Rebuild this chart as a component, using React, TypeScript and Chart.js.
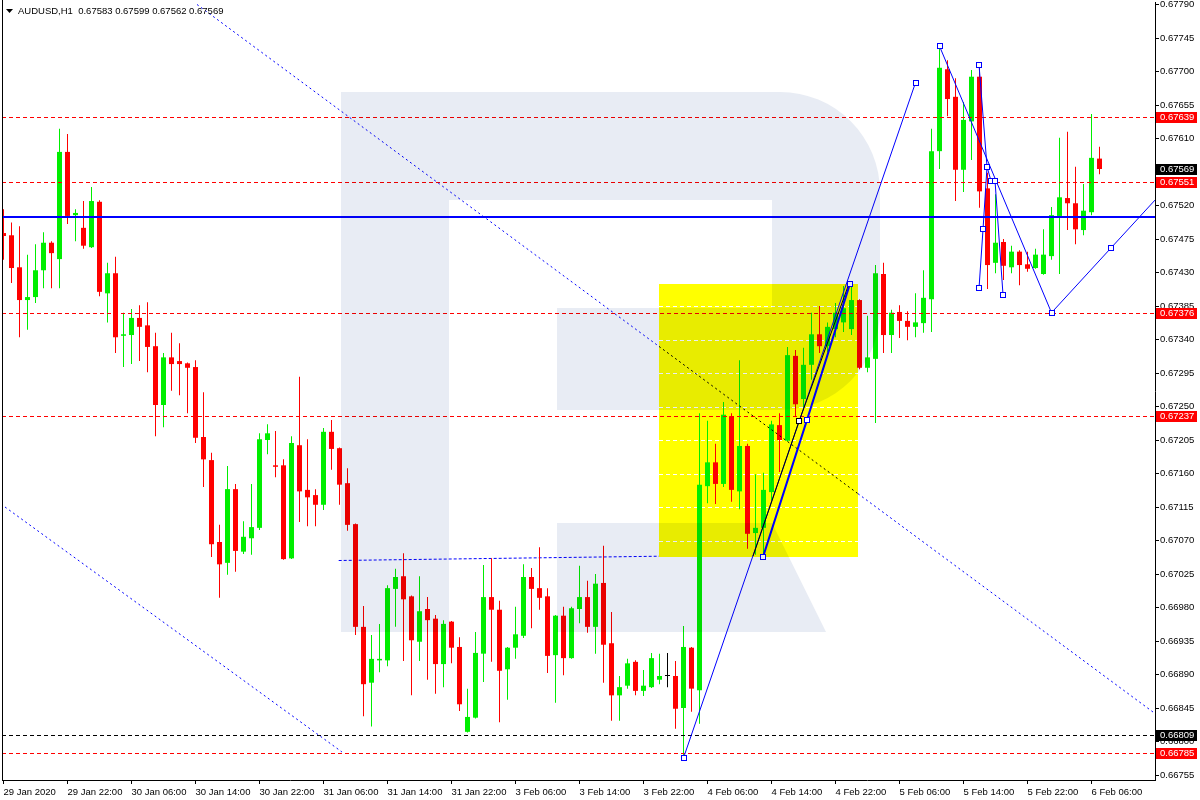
import React, { useEffect, useRef } from "react";
import { Chart, registerables } from "chart.js";

Chart.register(...registerables);

// ---------- DATA ----------
const opens = [
  0.67483, 0.67480, 0.67437, 0.67393, 0.67397, 0.67433, 0.67470, 0.67448, 0.67592, 0.67507,
  0.67490, 0.67464, 0.67525, 0.67402, 0.67429, 0.67345, 0.67346, 0.67369, 0.67359, 0.67331,
  0.67252, 0.67316, 0.67311, 0.67308, 0.67303, 0.67209, 0.67178, 0.67068, 0.67040, 0.67139,
  0.67055, 0.67073, 0.67087, 0.67205, 0.67171, 0.67171, 0.67046, 0.67198, 0.67138, 0.67131,
  0.67118, 0.67216, 0.67194, 0.67147, 0.67092, 0.66954, 0.66879, 0.66909, 0.66909, 0.67005,
  0.67022, 0.66995, 0.66934, 0.66978, 0.66965, 0.66904, 0.66961, 0.66927, 0.66813, 0.66832,
  0.66918, 0.66994, 0.66977, 0.66897, 0.66926, 0.66942, 0.67021, 0.67006, 0.66995, 0.66916,
  0.66969, 0.66912, 0.66978, 0.66994, 0.66954, 0.67013, 0.66932, 0.66862, 0.66875, 0.66907,
  0.66868, 0.66873, 0.66883, 0.66888, 0.66888, 0.66845, 0.66926, 0.66869, 0.67143, 0.67175,
  0.67146, 0.67237, 0.67136, 0.67197, 0.67080, 0.67087, 0.67135, 0.67225, 0.67204, 0.67318,
  0.67260, 0.67306, 0.67347, 0.67331, 0.67354, 0.67363, 0.67354, 0.67393, 0.67302, 0.67314,
  0.67428, 0.67346, 0.67377, 0.67365, 0.67357, 0.67362, 0.67394, 0.67593, 0.67703, 0.67666,
  0.67568, 0.67633, 0.67693, 0.67543, 0.67443, 0.67471, 0.67437, 0.67458, 0.67441, 0.67436,
  0.67428, 0.67452, 0.67506, 0.67530, 0.67523, 0.67487, 0.67511, 0.67583,
];
const highs = [
  0.67515, 0.67497, 0.67492, 0.67454, 0.67468, 0.67484, 0.67472, 0.67623, 0.67616, 0.67515,
  0.67526, 0.67545, 0.67527, 0.67443, 0.67451, 0.67376, 0.67381, 0.67386, 0.67390, 0.67349,
  0.67322, 0.67349, 0.67335, 0.67309, 0.67312, 0.67269, 0.67188, 0.67091, 0.67170, 0.67146,
  0.67096, 0.67146, 0.67214, 0.67226, 0.67217, 0.67179, 0.67210, 0.67290, 0.67206, 0.67139,
  0.67221, 0.67232, 0.67195, 0.67167, 0.67093, 0.66982, 0.66943, 0.66958, 0.67010, 0.67032,
  0.67053, 0.66996, 0.67022, 0.66994, 0.66970, 0.66963, 0.66962, 0.66940, 0.66871, 0.66947,
  0.67037, 0.67046, 0.66989, 0.66927, 0.66981, 0.67038, 0.67033, 0.67061, 0.67006, 0.66970,
  0.66981, 0.66981, 0.67036, 0.67016, 0.67025, 0.67063, 0.66974, 0.66888, 0.66911, 0.66909,
  0.66896, 0.66919, 0.66918, 0.66919, 0.66908, 0.66955, 0.66927, 0.67241, 0.67231, 0.67200,
  0.67256, 0.67241, 0.67312, 0.67200, 0.67159, 0.67161, 0.67231, 0.67241, 0.67330, 0.67326,
  0.67329, 0.67376, 0.67385, 0.67363, 0.67389, 0.67412, 0.67413, 0.67394, 0.67372, 0.67440,
  0.67443, 0.67380, 0.67386, 0.67378, 0.67402, 0.67433, 0.67623, 0.67734, 0.67715, 0.67691,
  0.67659, 0.67702, 0.67709, 0.67564, 0.67535, 0.67475, 0.67466, 0.67460, 0.67458, 0.67462,
  0.67488, 0.67518, 0.67611, 0.67619, 0.67572, 0.67549, 0.67643, 0.67599,
];
const lows = [
  0.67447, 0.67416, 0.67343, 0.67353, 0.67389, 0.67409, 0.67409, 0.67409, 0.67495, 0.67472,
  0.67462, 0.67463, 0.67398, 0.67363, 0.67322, 0.67303, 0.67307, 0.67311, 0.67296, 0.67210,
  0.67222, 0.67271, 0.67265, 0.67241, 0.67201, 0.67142, 0.67048, 0.66993, 0.67024, 0.67028,
  0.67052, 0.67051, 0.67084, 0.67186, 0.67155, 0.67044, 0.67045, 0.67095, 0.67089, 0.67089,
  0.67111, 0.67165, 0.67118, 0.67083, 0.66943, 0.66834, 0.66820, 0.66893, 0.66901, 0.66954,
  0.66908, 0.66862, 0.66908, 0.66883, 0.66864, 0.66873, 0.66905, 0.66841, 0.66812, 0.66831,
  0.66880, 0.66907, 0.66826, 0.66856, 0.66911, 0.66939, 0.66952, 0.66977, 0.66892, 0.66852,
  0.66889, 0.66911, 0.66959, 0.66946, 0.66918, 0.66879, 0.66828, 0.66828, 0.66871, 0.66862,
  0.66861, 0.66872, 0.66877, 0.66873, 0.66817, 0.66780, 0.66840, 0.66824, 0.67120, 0.67119,
  0.67142, 0.67122, 0.67112, 0.67059, 0.67051, 0.67053, 0.67124, 0.67162, 0.67203, 0.67236,
  0.67249, 0.67286, 0.67322, 0.67323, 0.67343, 0.67350, 0.67346, 0.67300, 0.67296, 0.67228,
  0.67322, 0.67322, 0.67342, 0.67339, 0.67343, 0.67349, 0.67350, 0.67569, 0.67640, 0.67526,
  0.67538, 0.67581, 0.67517, 0.67408, 0.67429, 0.67420, 0.67429, 0.67413, 0.67431, 0.67435,
  0.67427, 0.67447, 0.67428, 0.67487, 0.67468, 0.67480, 0.67507, 0.67562,
];
const closes = [
  0.67479, 0.67436, 0.67393, 0.67397, 0.67433, 0.67470, 0.67456, 0.67592, 0.67506, 0.67510,
  0.67466, 0.67526, 0.67404, 0.67429, 0.67343, 0.67347, 0.67369, 0.67357, 0.67330, 0.67252,
  0.67316, 0.67307, 0.67307, 0.67302, 0.67208, 0.67179, 0.67065, 0.67038, 0.67139, 0.67056,
  0.67075, 0.67088, 0.67206, 0.67214, 0.67169, 0.67045, 0.67201, 0.67136, 0.67128, 0.67118,
  0.67216, 0.67193, 0.67145, 0.67091, 0.66954, 0.66877, 0.66911, 0.66911, 0.67006, 0.67021,
  0.66991, 0.66936, 0.66975, 0.66963, 0.66904, 0.66958, 0.66926, 0.66850, 0.66833, 0.66919,
  0.66994, 0.66977, 0.66895, 0.66926, 0.66944, 0.67021, 0.67005, 0.66993, 0.66915, 0.66969,
  0.66912, 0.66979, 0.66994, 0.66954, 0.67012, 0.66930, 0.66862, 0.66873, 0.66905, 0.66868,
  0.66875, 0.66912, 0.66888, 0.66888, 0.66844, 0.66927, 0.66871, 0.67145, 0.67175, 0.67146,
  0.67239, 0.67138, 0.67197, 0.67079, 0.67087, 0.67138, 0.67226, 0.67205, 0.67319, 0.67253,
  0.67306, 0.67347, 0.67331, 0.67357, 0.67376, 0.67382, 0.67393, 0.67302, 0.67316, 0.67429,
  0.67346, 0.67376, 0.67365, 0.67357, 0.67363, 0.67396, 0.67593, 0.67705, 0.67663, 0.67568,
  0.67635, 0.67693, 0.67539, 0.67440, 0.67470, 0.67439, 0.67458, 0.67440, 0.67435, 0.67454,
  0.67454, 0.67507, 0.67531, 0.67523, 0.67488, 0.67513, 0.67584, 0.67569,
];

// time axis: one label every 8 bars
const timeTickLabels = [
  "29 Jan 2020", "29 Jan 22:00", "30 Jan 06:00", "30 Jan 14:00", "30 Jan 22:00",
  "31 Jan 06:00", "31 Jan 14:00", "31 Jan 22:00", "3 Feb 06:00", "3 Feb 14:00",
  "3 Feb 22:00", "4 Feb 06:00", "4 Feb 14:00", "4 Feb 22:00", "5 Feb 06:00",
  "5 Feb 14:00", "5 Feb 22:00", "6 Feb 06:00",
];
const barsPerTimeTick = 8;

const priceTicks = [
  0.66755, 0.66800, 0.66845, 0.66890, 0.66935, 0.66980, 0.67025, 0.67070,
  0.67115, 0.67160, 0.67205, 0.67250, 0.67295, 0.67340, 0.67385, 0.67430,
  0.67475, 0.67520, 0.67565, 0.67610, 0.67655, 0.67700, 0.67745, 0.67790,
];

const redLevels = [0.67639, 0.67551, 0.67376, 0.67237, 0.66785];
const blackLevels = [0.66809];
const blueLevel = 0.67505;
const lastPrice = 0.67569;

const titleText = "AUDUSD,H1  0.67583 0.67599 0.67562 0.67569";

// drawing objects anchored at (bar index, price)
const trendA = [[24.19, 0.6779], [120, 0.67028]];
const trendB = [[0.19, 0.67115], [42.3, 0.66786]];
const lineC = [[41.9, 0.67044], [98, 0.67052]];
const lineD = [[85, 0.66778], [114, 0.67685]];
const lineE = [[94.94, 0.67048], [100.44, 0.67232], [105.81, 0.67415]];
const lineF = [[93.69, 0.67049], [99.44, 0.6723], [105.69, 0.67415]];
const lineG = [[117, 0.67734], [131, 0.67376], [138.44, 0.67463]];
const waveH1 = [[121.94, 0.67709], [122.94, 0.67572], [123.44, 0.67553], [123.94, 0.67553], [124.94, 0.674]];
const waveH2 = [[121.94, 0.67409], [122.44, 0.67488], [122.94, 0.67572]];
const yellowBox = { x0: 81.94, x1: 106.81, top: 0.67414, bottom: 0.67048 };

// ---------- CHART ----------
const FONT = "Liberation Sans, Arial, sans-serif";
const GREEN = "#00ee00";
const RED = "#ff0000";

function candleColor(i: number) {
  if (closes[i] > opens[i]) return GREEN;
  if (closes[i] < opens[i]) return RED;
  return "#000000";
}

const overlayPlugin = {
  id: "mt4overlay",
  beforeDraw(chart: any) {
    const ctx = chart.ctx;
    ctx.save();
    ctx.fillStyle = "#ffffff";
    ctx.fillRect(0, 0, chart.width, chart.height);
    ctx.restore();
  },
  beforeDatasetsDraw(chart: any) {
    const ctx = chart.ctx;
    const xs = chart.scales.x;
    const ys = chart.scales.y;
    const X = (v: number) => xs.getPixelForValue(v);
    const Y = (v: number) => ys.getPixelForValue(v);
    const a = chart.chartArea;
    ctx.save();
    ctx.beginPath();
    ctx.rect(a.left, a.top, a.right - a.left, a.bottom - a.top);
    ctx.clip();
    // blue dashed near-horizontal line
    ctx.strokeStyle = "#0000ff";
    ctx.lineWidth = 1;
    ctx.setLineDash([3, 2]);
    ctx.beginPath();
    ctx.moveTo(X(lineC[0][0]), Math.round(Y(lineC[0][1])) + 0.5);
    ctx.lineTo(X(lineC[1][0]), Math.round(Y(lineC[1][1])) + 0.5);
    ctx.stroke();
    ctx.setLineDash([]);
    // yellow rectangle
    const bx0 = Math.round(X(yellowBox.x0));
    const bx1 = Math.round(X(yellowBox.x1));
    const by0 = Math.round(Y(yellowBox.top));
    const by1 = Math.round(Y(yellowBox.bottom));
    ctx.fillStyle = "#ffff00";
    ctx.fillRect(bx0, by0, bx1 - bx0, by1 - by0);
    // white grid dashes visible inside yellow
    ctx.strokeStyle = "#ffffff";
    ctx.setLineDash([4, 3]);
    for (const p of priceTicks) {
      const y = Math.round(Y(p)) + 0.5;
      if (y > by0 && y < by1) {
        ctx.beginPath();
        ctx.moveTo(bx0, y);
        ctx.lineTo(bx1, y);
        ctx.stroke();
      }
    }
    ctx.restore();
  },
  afterDatasetsDraw(chart: any) {
    const ctx = chart.ctx;
    const xs = chart.scales.x;
    const ys = chart.scales.y;
    const X = (v: number) => xs.getPixelForValue(v);
    const Y = (v: number) => ys.getPixelForValue(v);
    const a = chart.chartArea;
    ctx.save();
    ctx.beginPath();
    ctx.rect(a.left, a.top, a.right - a.left, a.bottom - a.top);
    ctx.clip();

    // horizontal levels
    ctx.lineWidth = 1;
    ctx.setLineDash([4, 3]);
    for (const lv of redLevels) {
      const y = Math.round(Y(lv)) + 0.5;
      ctx.strokeStyle = RED;
      ctx.beginPath();
      ctx.moveTo(a.left, y);
      ctx.lineTo(a.right, y);
      ctx.stroke();
    }
    for (const lv of blackLevels) {
      const y = Math.round(Y(lv)) + 0.5;
      ctx.strokeStyle = "#000000";
      ctx.beginPath();
      ctx.moveTo(a.left, y);
      ctx.lineTo(a.right, y);
      ctx.stroke();
    }
    ctx.setLineDash([]);
    ctx.strokeStyle = "#0000ff";
    ctx.lineWidth = 2;
    {
      const y = Math.round(Y(blueLevel));
      ctx.beginPath();
      ctx.moveTo(a.left, y);
      ctx.lineTo(a.right, y);
      ctx.stroke();
    }

    const bx0 = X(yellowBox.x0);
    const bx1 = X(yellowBox.x1);

    // dotted trend line A (ray), black inside yellow box
    {
      const x1 = X(trendA[0][0]), y1 = Y(trendA[0][1]);
      const x2 = X(trendA[1][0]), y2 = Y(trendA[1][1]);
      const k = (y2 - y1) / (x2 - x1);
      const at = (x: number) => y1 + (x - x1) * k;
      const segs: [number, number, string][] = [
        [x1, bx0, "#0000ff"],
        [bx0, bx1, "#000000"],
        [bx1, a.right, "#0000ff"],
      ];
      ctx.lineWidth = 1;
      ctx.setLineDash([2, 3]);
      for (const [s, e, c] of segs) {
        ctx.strokeStyle = c;
        ctx.beginPath();
        ctx.moveTo(s, at(s));
        ctx.lineTo(e, at(e));
        ctx.stroke();
      }
      // dotted trend line B
      ctx.strokeStyle = "#0000ff";
      ctx.beginPath();
      ctx.moveTo(X(trendB[0][0]), Y(trendB[0][1]));
      ctx.lineTo(X(trendB[1][0]), Y(trendB[1][1]));
      ctx.stroke();
      ctx.setLineDash([]);
    }

    const poly = (pts: number[][], color: string, w: number) => {
      ctx.strokeStyle = color;
      ctx.lineWidth = w;
      ctx.beginPath();
      pts.forEach((p, i) => {
        const px = X(p[0]);
        const py = Y(p[1]);
        if (i === 0) ctx.moveTo(px, py);
        else ctx.lineTo(px, py);
      });
      ctx.stroke();
    };
    const square = (p: number[], color: string) => {
      const px = Math.round(X(p[0]));
      const py = Math.round(Y(p[1]));
      ctx.fillStyle = "#ffffff";
      ctx.fillRect(px - 2, py - 2, 4, 4);
      ctx.strokeStyle = color;
      ctx.lineWidth = 1;
      ctx.strokeRect(px - 2.5, py - 2.5, 5, 5);
    };

    poly(lineD, "#0000ff", 1);
    poly(lineF, "#000000", 1);
    poly(lineE, "#0000ff", 2);
    {
      poly(lineG, "#0000ff", 1);
      const p1 = lineG[1], p2 = lineG[2];
      const x1 = X(p1[0]), y1 = Y(p1[1]);
      const x2 = X(p2[0]), y2 = Y(p2[1]);
      const k = (y2 - y1) / (x2 - x1);
      ctx.beginPath();
      ctx.moveTo(x2, y2);
      ctx.lineTo(a.right, y2 + (a.right - x2) * k);
      ctx.stroke();
    }
    poly(waveH1, "#0000ff", 1);
    poly(waveH2, "#0000ff", 1);

    square(lineD[0], "#0000ff");
    square(lineD[1], "#0000ff");
    lineE.forEach((p) => square(p, "#0000ff"));
    square(lineF[1], "#000000");
    lineG.forEach((p) => square(p, "#0000ff"));
    waveH1.forEach((p) => square(p, "#0000ff"));
    waveH2.forEach((p) => square(p, "#0000ff"));

    // watermark "R" (multiply overlay)
    ctx.globalCompositeOperation = "multiply";
    ctx.fillStyle = "rgb(232,236,244)";
    ctx.beginPath();
    ctx.rect(341, 92, 108, 540);
    ctx.moveTo(449, 92);
    ctx.lineTo(780, 92);
    ctx.arc(780, 192, 100, -Math.PI / 2, 0);
    ctx.lineTo(880, 310);
    ctx.arc(780, 310, 100, 0, Math.PI / 2);
    ctx.lineTo(557, 410);
    ctx.lineTo(557, 308);
    ctx.lineTo(772, 308);
    ctx.lineTo(772, 200);
    ctx.lineTo(449, 200);
    ctx.closePath();
    ctx.moveTo(557, 523);
    ctx.lineTo(772, 523);
    ctx.lineTo(826, 632);
    ctx.lineTo(557, 632);
    ctx.closePath();
    ctx.fill();
    ctx.globalCompositeOperation = "source-over";
    ctx.restore();

    // left frame line
    ctx.save();
    ctx.strokeStyle = "#000000";
    ctx.lineWidth = 1;
    ctx.beginPath();
    ctx.moveTo(a.left + 0.5, 0);
    ctx.lineTo(a.left + 0.5, a.bottom);
    ctx.stroke();
    ctx.restore();
  },
  afterDraw(chart: any) {
    const ctx = chart.ctx;
    const ys = chart.scales.y;
    const a = chart.chartArea;
    ctx.save();
    ctx.font = `9.5px ${FONT}`;
    ctx.textBaseline = "middle";
    ctx.textAlign = "left";
    const box = (p: number, bg: string) => {
      const y = Math.round(ys.getPixelForValue(p));
      ctx.fillStyle = bg;
      ctx.fillRect(a.right + 1, y - 5, 41, 11);
      ctx.fillStyle = "#ffffff";
      ctx.fillText(p.toFixed(5), a.right + 5, y + 0.5);
    };
    redLevels.forEach((p) => box(p, RED));
    blackLevels.forEach((p) => box(p, "#000000"));
    box(lastPrice, "#000000");

    // title
    ctx.fillStyle = "#000000";
    ctx.beginPath();
    ctx.moveTo(6, 9);
    ctx.lineTo(13, 9);
    ctx.lineTo(9.5, 13);
    ctx.closePath();
    ctx.fill();
    ctx.fillText(titleText, 18, 11);
    ctx.restore();
  },
};

export default function App() {
  const ref = useRef<HTMLCanvasElement>(null);
  useEffect(() => {
    if (!ref.current) return;
    const idx = opens.map((_, i) => i);
    const colors = idx.map(candleColor);
    const chart = new Chart(ref.current, {
      type: "bar",
      data: {
        datasets: [
          {
            label: "wicks",
            data: idx.map((i) => ({ x: i, y: [lows[i], highs[i]] })) as any,
            backgroundColor: colors,
            borderWidth: 0,
            barThickness: 1,
            grouped: false,
            inflateAmount: 0,
            order: 2,
          } as any,
          {
            label: "bodies",
            data: idx.map((i) => ({
              x: i,
              y: [Math.min(opens[i], closes[i]), Math.max(opens[i], closes[i])],
            })) as any,
            backgroundColor: colors,
            borderWidth: 0,
            barThickness: 5,
            minBarLength: 1,
            grouped: false,
            inflateAmount: 0,
            order: 1,
          } as any,
        ],
      },
      options: {
        responsive: false,
        animation: false,
        devicePixelRatio: 1,
        events: [],
        layout: { padding: { left: 2, top: 2, right: 0, bottom: 0 } },
        plugins: {
          legend: { display: false },
          tooltip: { enabled: false },
        },
        scales: {
          x: {
            type: "linear",
            min: -0.1875,
            max: 143.9375,
            offset: false,
            position: "bottom",
            grid: {
              display: true,
              drawOnChartArea: false,
              drawTicks: true,
              tickLength: 4,
              color: "#000000",
              offset: false,
            },
            border: { display: true, color: "#000000", width: 1 },
            ticks: {
              autoSkip: false,
              maxRotation: 0,
              minRotation: 0,
              align: "start",
              padding: 3,
              color: "#000000",
              font: { family: FONT, size: 9.5 },
              callback: (v: any) => {
                const k = Math.round(Number(v) / barsPerTimeTick);
                return timeTickLabels[k] ?? "";
              },
            },
            afterBuildTicks: (s: any) => {
              s.ticks = timeTickLabels.map((_, k) => ({ value: k * barsPerTimeTick }));
            },
            afterFit: (s: any) => {
              s.height = 20;
              s.paddingLeft = 0;
              s.paddingRight = 0;
              s.paddingTop = 0;
              s.paddingBottom = 0;
            },
          } as any,
          y: {
            type: "linear",
            position: "right",
            min: 0.6674829,
            max: 0.6779336,
            beginAtZero: false,
            grid: {
              display: true,
              drawOnChartArea: false,
              drawTicks: true,
              tickLength: 4,
              color: "#000000",
            },
            border: { display: true, color: "#000000", width: 1 },
            ticks: {
              autoSkip: false,
              padding: 1,
              color: "#000000",
              font: { family: FONT, size: 9.5 },
              callback: (v: any) => Number(v).toFixed(5),
            },
            afterBuildTicks: (s: any) => {
              s.ticks = priceTicks.map((p) => ({ value: p }));
            },
            afterFit: (s: any) => {
              s.width = 45;
              s.paddingLeft = 0;
              s.paddingRight = 0;
              s.paddingTop = 0;
              s.paddingBottom = 0;
            },
          } as any,
        },
      },
      plugins: [overlayPlugin],
    });
    return () => chart.destroy();
  }, []);
  return (
    <div style={{ position: "absolute", left: 0, top: 0, width: 1200, height: 800, background: "#fff" }}>
      <canvas ref={ref} width={1200} height={800} style={{ display: "block", width: 1200, height: 800 }} />
    </div>
  );
}
